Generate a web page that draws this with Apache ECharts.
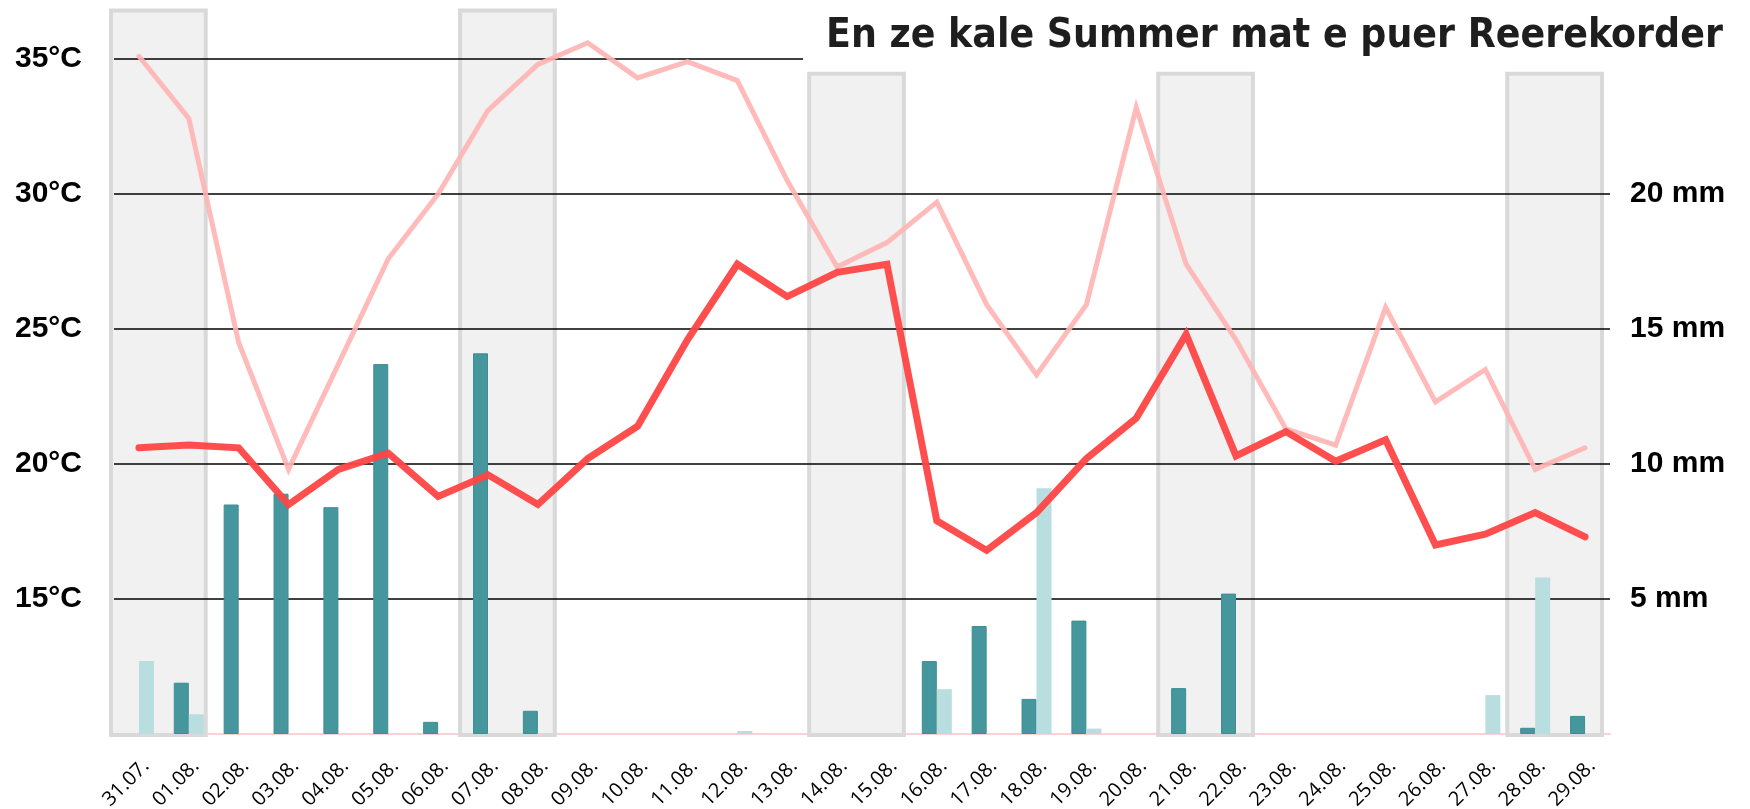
<!DOCTYPE html>
<html>
<head>
<meta charset="utf-8">
<title>En ze kale Summer mat e puer Reerekorder</title>
<script src="https://cdn.jsdelivr.net/npm/echarts@6.0.0/dist/echarts.min.js"></script>
<style>
  html, body { margin: 0; padding: 0; background: #fff; }
  #chart { width: 1750px; height: 809px; }
</style>
</head>
<body>
<div id="chart"></div>
<script>
// Deeg
var days = ['31.07.', '01.08.', '02.08.', '03.08.', '04.08.', '05.08.', '06.08.', '07.08.', '08.08.', '09.08.',
  '10.08.', '11.08.', '12.08.', '13.08.', '14.08.', '15.08.', '16.08.', '17.08.', '18.08.', '19.08.',
  '20.08.', '21.08.', '22.08.', '23.08.', '24.08.', '25.08.', '26.08.', '27.08.', '28.08.', '29.08.']

// Temperaturen (°C)
var tempLight = [35.1, 32.8, 24.5, 19.8, 23.7, 27.6, 30.0, 33.1, 34.8, 35.6,
  34.3, 34.9, 34.2, 30.5, 27.3, 28.2, 29.7, 25.9, 23.3, 25.9,
  33.2, 27.4, 24.6, 21.3, 20.7, 25.8, 22.3, 23.5, 19.8, 20.6]
var tempDark = [20.6, 20.7, 20.6, 18.5, 19.8, 20.4, 18.8, 19.6, 18.5, 20.2,
  21.4, 24.6, 27.4, 26.2, 27.1, 27.4, 17.9, 16.8, 18.2, 20.2,
  21.7, 24.8, 20.3, 21.2, 20.1, 20.9, 17.0, 17.4, 18.2, 17.3]

// Reen (mm)
var rainDark = [0, 1.9, 8.5, 8.9, 8.4, 13.7, 0.45, 14.1, 0.86, 0,
  0, 0, 0, 0, 0, 0, 2.7, 4.0, 1.3, 4.2,
  0, 1.7, 5.2, 0, 0, 0, 0, 0, 0.23, 0.67]
var rainLight = [2.7, 0.73, 0, 0, 0, 0, 0, 0, 0, 0,
  0, 0, 0.11, 0, 0, 0, 1.66, 0, 9.1, 0.2,
  0, 0, 0, 0, 0, 0, 0, 1.44, 5.8, 0]

// Weekender
var weekendStart = ['31.07.', '07.08.', '14.08.', '21.08.', '28.08.']
var weekendTop = [36.8, 36.8, 34.45, 34.45, 34.45]

var tempTicks = [15, 20, 25, 30, 35]
var rainTicks = [5, 10, 15, 20]

var chart = echarts.init(document.getElementById('chart'))

// Rechteck fir de Weekend
function renderWeekend (params, api) {
  var base = api.coord([api.value(0), 10])
  var top = api.coord([api.value(0), api.value(1)])
  var w = api.size([1, 0])[0]
  return {
    type: 'rect',
    shape: { x: base[0] - w / 2 - 3, y: top[1], width: 2 * w - 5, height: base[1] - top[1] + 1 },
    style: { fill: '#f1f1f1', stroke: '#d9d9d9', lineWidth: 4 }
  }
}

// keen Bar wann et net gereent huet
function noZero (list) {
  return list.map(function (v) { return v === 0 ? '-' : v })
}

var labelFont = { fontFamily: 'Liberation Sans, Arial, sans-serif', fontWeight: 'bold', fontSize: 30, color: '#000' }

var option = {
  animation: false,
  backgroundColor: '#fff',
  title: {
    text: 'En ze kale Summer mat e puer Reerekorder',
    left: 803,
    top: 8,
    padding: [8, 12, 12, 23],
    backgroundColor: '#fff',
    z: 10,
    textStyle: {
      fontFamily: '"DejaVu Sans Condensed", "Liberation Sans Narrow", sans-serif',
      fontWeight: 'bold',
      fontSize: 40.5,
      color: '#1e1e1e'
    }
  },
  grid: { left: 114, right: 140, top: 5, bottom: 75, outerBoundsMode: 'none', containLabel: false },
  xAxis: {
    type: 'category',
    data: days,
    boundaryGap: true,
    axisTick: { show: false },
    axisLine: { lineStyle: { color: '#fad2d2', width: 2 } },
    axisLabel: {
      rotate: 45,
      margin: 22,
      align: 'right',
      verticalAlign: 'top',
      interval: 0,
      fontFamily: 'Open Sans, sans-serif',
      fontSize: 20,
      color: '#000'
    }
  },
  yAxis: [
    {
      type: 'value',
      min: 10,
      max: 37,
      interval: 5,
      z: 2,
      axisLine: { show: false },
      axisTick: { show: false },
      splitLine: { show: true, showMinLine: false, showMaxLine: false, lineStyle: { color: '#000', width: 1.6 } },
      axisLabel: Object.assign({
        margin: 32,
        padding: [0, 0, 13, 0],
        showMaxLabel: false,
        formatter: function (v) { return tempTicks.indexOf(v) >= 0 ? v + '°C' : '' }
      }, labelFont)
    },
    {
      type: 'value',
      min: 0,
      max: 27,
      interval: 5,
      axisLine: { show: false },
      axisTick: { show: false },
      splitLine: { show: false },
      axisLabel: Object.assign({
        margin: 20,
        padding: [0, 0, 13, 0],
        showMaxLabel: false,
        formatter: function (v) { return rainTicks.indexOf(v) >= 0 ? v + ' mm' : '' }
      }, labelFont)
    }
  ],
  series: [
    {
      name: 'Weekend',
      type: 'custom',
      xAxisIndex: 0,
      yAxisIndex: 0,
      z: 1,
      silent: true,
      renderItem: renderWeekend,
      data: weekendStart.map(function (d, i) { return [d, weekendTop[i]] })
    },
    {
      name: 'Reen 1',
      type: 'bar',
      yAxisIndex: 1,
      barWidth: 15,
      barGap: '0%',
      z: 3,
      itemStyle: { color: '#46979d', borderColor: '#3e8d93', borderWidth: 1 },
      data: noZero(rainDark)
    },
    {
      name: 'Reen 2',
      type: 'bar',
      yAxisIndex: 1,
      barWidth: 15,
      barGap: '0%',
      z: 3,
      itemStyle: { color: '#b8dee0' },
      data: noZero(rainLight)
    },
    {
      name: 'Temperatur 1',
      type: 'line',
      yAxisIndex: 0,
      showSymbol: false,
      z: 4,
      lineStyle: { color: '#ffb3b3', width: 5, opacity: 0.9, cap: 'round', join: 'miter' },
      data: tempLight
    },
    {
      name: 'Temperatur 2',
      type: 'line',
      yAxisIndex: 0,
      showSymbol: false,
      z: 5,
      lineStyle: { color: '#ff4545', width: 7, opacity: 0.95, cap: 'round', join: 'miter' },
      data: tempDark
    }
  ]
}

chart.setOption(option)
</script>
</body>
</html>
